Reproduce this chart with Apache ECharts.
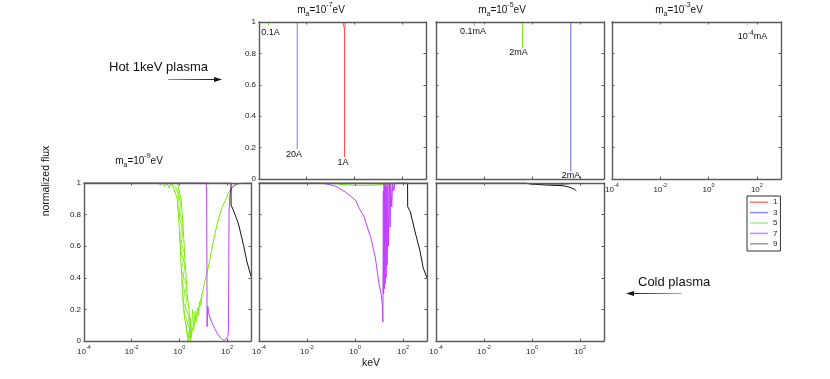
<!DOCTYPE html>
<html>
<head>
<meta charset="utf-8">
<script src="https://cdn.jsdelivr.net/npm/echarts@6/dist/echarts.min.js"></script>
<style>
  html, body { margin: 0; padding: 0; background: #fff; }
  #chart { width: 830px; height: 379px; }
</style>
</head>
<body>
<div id="chart"></div>
<script>
// x in keV (log axis), y = normalized flux
const xTickExps = [-4, -2, 0, 2]
const yTicks = [0, 0.2, 0.4, 0.6, 0.8, 1]

// top row, hot 1 keV plasma
const ma7h_green = [[2.5e-4, 1], [2.5e-4, 0.98]]
const ma7h_blue = [[0.004, 1], [0.004, 0.19]]
const ma7h_red = [[0.33, 1], [0.385, 0.95], [0.385, 0.14], [0.385, 0.95], [0.42, 1]]
const ma5h_purple = [[0.0039, 1], [0.0039, 0.975]]
const ma5h_green = [[0.4, 1], [0.4, 0.836]]
const ma5h_blue = [[41.5, 1], [41.5, 0.046]]
const ma3h_purple = [[40, 1], [40, 0.975]]

// bottom row, cold plasma
const ma9_green_left = [[1e-4, 1], [0.14, 1], [0.16, 0.985], [0.2, 1], [0.24, 0.975], [0.3, 1], [0.36, 0.97], [0.45, 1], [0.6, 0.96], [0.81, 0.9], [0.91, 0.8], [1.0, 0.7], [1.07, 0.6], [1.16, 0.5], [1.26, 0.4], [1.35, 0.3], [1.48, 0.2], [1.86, 0.1], [2.29, 0.0], [2.88, 0.02], [3.98, 0.1], [6.31, 0.2], [10, 0.33], [12.6, 0.4], [15.9, 0.46], [24, 0.6], [33, 0.7], [44.7, 0.78], [63, 0.85], [85, 0.89], [112, 0.935], [162, 0.97], [224, 0.985], [309, 0.995], [500, 1], [1000, 1]]
const ma9_green_right = [[0.83, 1], [1.15, 0.9], [1.32, 0.8], [1.45, 0.7], [1.59, 0.6], [1.74, 0.5], [1.91, 0.4], [2.09, 0.3], [2.51, 0.2], [2.82, 0.1], [2.88, 0.0]]
const ma9_green_band = [[0.55, 0.99], [0.95, 0.95], [0.86, 0.85], [1.38, 0.75], [1.03, 0.65], [1.66, 0.55], [1.2, 0.45], [2.0, 0.35], [1.41, 0.25], [2.6, 0.15], [1.9, 0.08], [2.6, 0.01], [2.82, 0.15], [3.16, 0.02], [3.55, 0.2], [3.98, 0.07], [4.47, 0.19], [5.01, 0.12], [5.62, 0.21], [6.31, 0.16], [7.08, 0.25], [7.94, 0.22], [8.91, 0.3]]
const ma9_green_band2 = [[0.7, 0.97], [0.9, 0.92], [1.1, 0.88], [1.0, 0.78], [1.4, 0.7], [1.12, 0.58], [1.7, 0.48], [1.3, 0.36], [2.05, 0.28], [1.6, 0.17], [2.7, 0.08], [2.2, 0.02]]
const ma9_purple = [[1e-4, 1], [13, 1], [13.8, 0.97], [14.2, 0.5], [14.4, 0.09], [15.5, 0.22], [16.5, 0.18], [19, 0.15], [24, 0.11], [30, 0.08], [38, 0.05], [50, 0.025], [62, 0.01], [80, 0.005], [95, 0.01], [108, 0.03], [114, 0.09], [117, 0.43], [120, 0.81], [128, 0.92], [150, 0.965], [190, 0.985], [260, 0.995], [420, 1], [1000, 1]]
const ma9_black = [[1e-4, 1], [145, 1], [146, 0.86], [180, 0.83], [300, 0.74], [480, 0.61], [680, 0.5], [1000, 0.41]]

const ma7c_green = [[1e-4, 1], [0.1, 1], [0.3, 0.99], [1, 0.985], [3, 0.985], [10, 0.988], [30, 0.993], [60, 1], [1000, 1]]
const ma7c_purple = [[1e-4, 1], [0.03, 1], [0.06, 0.995], [0.16, 0.98], [0.42, 0.94], [1.07, 0.89], [1.48, 0.84], [2.34, 0.79], [3.8, 0.69], [4.47, 0.66], [7.08, 0.525], [9.8, 0.37], [12.6, 0.29], [13.8, 0.22], [14.5, 0.12], [14.9, 0.13], [15.2, 0.95], [15.6, 0.3], [16.2, 1], [16.6, 0.33], [17.4, 0.98], [18, 0.36], [19, 1], [19.8, 0.4], [21, 0.98], [22, 0.48], [23.5, 1], [25, 0.6], [27, 1], [29, 0.72], [31, 0.99], [34, 0.85], [37, 1], [41, 0.95], [46, 1], [1000, 1]]
const ma7c_black = [[1e-4, 1], [155, 1], [157, 0.85], [200, 0.82], [320, 0.69], [510, 0.57], [700, 0.46], [1000, 0.4]]

const ma5c_black = [[1e-4, 1], [0.5, 1], [0.83, 0.994], [4, 0.987], [19.6, 0.983], [37, 0.973], [60, 0.96], [70, 0.95]]
const ma5c_gray = [[0.4, 1], [2, 0.995], [12, 0.99], [30, 0.992], [50, 1]]

const legendNames = ['1', '3', '5', '7', '9']
const legendColors = ['#ff7777', '#8888ff', '#99ee99', '#cc88ff', '#999999']

const FONT = '"Liberation Sans", Arial, Helvetica, sans-serif'
const FRAME = '#5a5a5a'
const RED = '#ff5050', BLUE = '#6666ff', GREEN = '#77ee00', PURPLE = '#c040ff', BLACK = '#111'

const grids = [
  { left: 259, top: 22, width: 167, height: 157 }, // m_a=1e-7, hot
  { left: 436, top: 22, width: 168, height: 157 }, // m_a=1e-5, hot
  { left: 612, top: 22, width: 169, height: 157 }, // m_a=1e-3, hot
  { left: 84, top: 183, width: 167, height: 158 }, // m_a=1e-9, cold
  { left: 259, top: 183, width: 168, height: 158 }, // m_a=1e-7, cold
  { left: 436, top: 183, width: 168, height: 158 } // m_a=1e-5, cold
]
const showX = [false, false, true, true, true, true]
const showY = [true, false, false, true, false, false]

const xRich = {
  b: { fontSize: 8, lineHeight: 12, verticalAlign: 'bottom', fontFamily: FONT, color: '#222' },
  s: { fontSize: 5.5, lineHeight: 6, verticalAlign: 'top', fontFamily: FONT, color: '#222' }
}
const fmtX = (v) => {
  const e = Math.round(Math.log10(v))
  if (!xTickExps.includes(e)) return ''
  return '{b|10}{s|' + e + '}'
}

const xAxes = []
const yAxes = []
grids.forEach((g, i) => {
  ;['bottom', 'top'].forEach((pos) => {
    xAxes.push({
      type: 'log', logBase: 100, min: 1e-4, max: 1000, gridIndex: i, position: pos, z: 10,
      axisLine: { show: true, onZero: false, lineStyle: { color: FRAME, width: 1.4 } },
      axisTick: { show: true, inside: true, length: 2.5, lineStyle: { color: FRAME } },
      splitLine: { show: false },
      axisLabel: { show: pos === 'bottom' && showX[i], margin: 3, showMaxLabel: false, formatter: fmtX, rich: xRich }
    })
  })
  ;['left', 'right'].forEach((pos) => {
    yAxes.push({
      type: 'value', min: 0, max: 1, interval: 0.2, gridIndex: i, position: pos, z: 10,
      axisLine: { show: true, onZero: false, lineStyle: { color: FRAME, width: 1.4 } },
      axisTick: { show: true, inside: true, length: 2.5, lineStyle: { color: FRAME } },
      splitLine: { show: false },
      axisLabel: {
        show: pos === 'left' && showY[i], margin: 3, fontSize: 8, color: '#222', fontFamily: FONT,
        formatter: (v) => (yTicks.includes(v) ? String(v) : '')
      }
    })
  })
})

const ln = (name, g, data, color, width = 1, z = 2) => ({
  type: 'line', name, data, xAxisIndex: 2 * g, yAxisIndex: 2 * g,
  showSymbol: false, symbol: 'none', silent: true, z,
  lineStyle: { color, width }, itemStyle: { color }
})

const series = [
  ln('5', 0, ma7h_green, GREEN),
  ln('3', 0, ma7h_blue, '#7a7aff'),
  ln('1', 0, ma7h_red, RED),
  ln('7', 1, ma5h_purple, '#d070ff'),
  ln('5', 1, ma5h_green, GREEN),
  ln('3', 1, ma5h_blue, BLUE),
  ln('7', 2, ma3h_purple, '#e0b0ff'),
  ln('5', 3, ma9_green_band, GREEN, 0.8),
  ln('5', 3, ma9_green_band2, GREEN, 0.8),
  ln('5', 3, ma9_green_left, GREEN),
  ln('5', 3, ma9_green_right, GREEN),
  ln('7', 3, ma9_purple, PURPLE, 1, 3),
  ln('9', 3, ma9_black, BLACK, 1, 4),
  ln('5', 4, ma7c_green, GREEN),
  ln('7', 4, ma7c_purple, PURPLE, 1, 3),
  ln('9', 4, ma7c_black, BLACK, 1, 4),
  ln('9', 5, ma5c_gray, '#999'),
  ln('9', 5, ma5c_black, BLACK, 1, 4)
]

const txt = (text, x, y, size, align = 'center', extra = {}) => ({
  type: 'text', x, y, silent: true, z: 20,
  style: Object.assign({ text, fontSize: size, fontFamily: FONT, fill: '#111', align, verticalAlign: 'middle' }, extra)
})
const titleRich = {
  m: { fontSize: 10, lineHeight: 16, fontFamily: FONT, fill: '#111' },
  a: { fontSize: 7, lineHeight: 7, verticalAlign: 'bottom', fontFamily: FONT, fill: '#111' },
  e: { fontSize: 7, lineHeight: 7, verticalAlign: 'top', fontFamily: FONT, fill: '#111' }
}
const maTitle = (exp, x, y) => txt('{m|m}{a|a}{m|=10}{e|' + exp + '}{m|eV}', x, y, 10, 'center', { rich: titleRich })
const annRich = {
  m: { fontSize: 9, lineHeight: 14, fontFamily: FONT, fill: '#111' },
  e: { fontSize: 6.5, lineHeight: 7, verticalAlign: 'top', fontFamily: FONT, fill: '#111' }
}

const arrowGrad = (c1, c2) => new echarts.graphic.LinearGradient(0, 0, 1, 0, [
  { offset: 0, color: c1 }, { offset: 1, color: c2 }
])

const graphic = [
  maTitle('-7', 321, 10),
  maTitle('-5', 502, 10),
  maTitle('-3', 679, 10),
  maTitle('-9', 139, 161),
  txt('0.1A', 270.5, 33, 9),
  txt('20A', 294, 155, 9),
  txt('1A', 343, 163, 9),
  txt('0.1mA', 473, 32, 9),
  txt('2mA', 518.5, 53, 9),
  txt('2mA', 571, 176, 9),
  txt('{m|10}{e|-4}{m|mA}', 752.5, 37, 9, 'center', { rich: annRich }),
  txt('keV', 371, 363, 10.5),
  Object.assign(txt('normalized flux', 0, 0, 10.5), { x: 46, y: 181, rotation: Math.PI / 2 }),
  txt('Hot 1keV plasma', 109, 67, 13, 'left'),
  txt('Cold plasma', 638, 282, 13, 'left'),
  { type: 'line', silent: true, shape: { x1: 168, y1: 79.5, x2: 216, y2: 79.5 }, style: { stroke: arrowGrad('#999', '#111'), lineWidth: 1 } },
  { type: 'polygon', silent: true, shape: { points: [[222, 79.5], [214, 77], [214, 82]] }, style: { fill: '#111' } },
  { type: 'line', silent: true, shape: { x1: 632, y1: 293.5, x2: 682, y2: 293.5 }, style: { stroke: arrowGrad('#111', '#bbb'), lineWidth: 1 } },
  { type: 'polygon', silent: true, shape: { points: [[626, 293.5], [634, 291], [634, 296]] }, style: { fill: '#111' } }
]

const chart = echarts.init(document.getElementById('chart'), null, { renderer: 'canvas' })
chart.setOption({
  animation: false,
  backgroundColor: '#fff',
  grid: grids.map((g) => Object.assign({ outerBoundsMode: 'none', containLabel: false }, g)),
  xAxis: xAxes,
  yAxis: yAxes,
  legend: {
    left: 747, top: 196, orient: 'vertical', selectedMode: false,
    itemWidth: 18, itemHeight: 1.5, itemGap: 0, padding: [1, 3, 2, 3],
    borderColor: '#333', borderWidth: 1, backgroundColor: '#fff',
    textStyle: { fontSize: 8, lineHeight: 10.4, color: '#222', fontFamily: FONT },
    data: legendNames.map((n, i) => ({ name: n, icon: 'rect', itemStyle: { color: legendColors[i] } }))
  },
  series,
  graphic
})
</script>
</body>
</html>
